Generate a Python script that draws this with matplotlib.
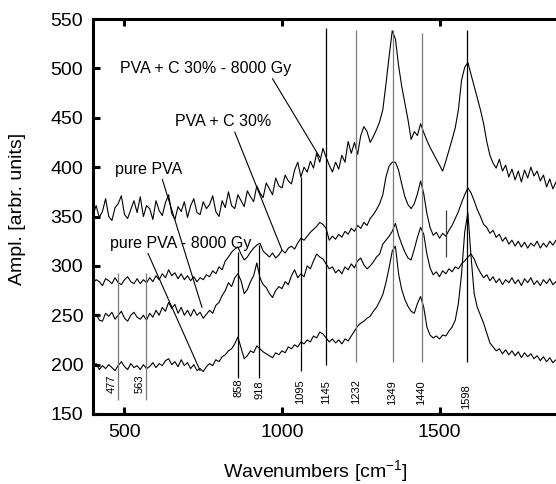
import matplotlib

matplotlib.use("Agg")
import matplotlib.pyplot as plt
import numpy as np

plt.rcParams["font.family"] = ["Liberation Sans", "DejaVu Sans"]
plt.rcParams["mathtext.fontset"] = "custom"
plt.rcParams["mathtext.rm"] = "Liberation Sans"

# wavenumber grid (cm^-1), one value every 10 cm^-1
wn = np.arange(400, 1890, 10)

# PVA + C 30% - 8000 Gy (top trace)
pva_c_irr = [
    352, 361, 349, 355, 368, 350, 346, 359, 363, 371, 352, 348, 357, 366, 354,
    370, 350, 361, 358, 347, 366, 356, 351, 364, 372, 353, 347, 360, 355, 365,
    349, 361, 368, 354, 352, 365, 358, 362, 371, 355, 350, 366, 359, 375, 361,
    358, 372, 366, 360, 376, 370, 365, 381, 374, 369, 384, 378, 372, 389, 381,
    379, 392, 386, 383, 397, 405, 390, 400, 395, 406, 399, 414, 405, 419, 410,
    402, 395, 405, 398, 412, 405, 426, 414, 425, 413, 432, 441, 436, 425, 431,
    438, 446, 458, 484, 512, 538, 530, 503, 482, 465, 448, 428, 436, 432, 444,
    435, 427, 420, 414, 408, 402, 396, 406, 417, 428, 440, 458, 488, 501, 506,
    494, 482, 470, 458, 444, 426, 412, 404, 399, 408, 396, 402, 390, 398, 387,
    396, 385, 397, 389, 400, 391, 396, 386, 392, 380, 388, 378, 385, 376,
]

# PVA + C 30%
pva_c = [
    283, 286, 284, 280, 287, 285, 282, 288, 283, 281, 286, 289, 284, 282, 287,
    282, 286, 283, 288, 284, 290, 286, 292, 288, 296, 290, 293, 287, 292, 286,
    290, 285, 289, 284, 288, 286, 291, 289, 295, 292, 299, 296, 305, 309, 314,
    317, 319, 312, 306, 309, 314, 318, 321, 323, 315, 312, 309, 313, 308, 311,
    316, 313, 318, 320, 317, 323, 328, 326, 330, 334, 337, 340, 344, 342, 338,
    326, 330, 327, 332, 329, 335, 332, 338, 335, 341, 338, 344, 341, 348, 352,
    357, 363, 372, 390, 401, 405, 405, 397, 383, 370, 362, 358, 363, 373, 386,
    373, 353, 339, 331, 334, 328, 333, 330, 336, 341, 348, 355, 364, 372, 379,
    374, 366, 357, 350, 342, 339, 333, 336, 329, 332, 325, 329, 322, 326, 320,
    325, 319, 324, 318, 323, 320, 325, 318, 323, 319, 325, 321, 326, 322,
]

# pure PVA
pva = [
    247, 251, 245, 244, 252, 249, 253, 246, 250, 254, 247, 244, 250, 253, 248,
    246, 250, 245, 252, 248, 255, 250, 258, 254, 263, 257, 261, 252, 258, 250,
    255, 249, 256, 250, 253, 247, 251, 255, 252, 260, 263, 270, 275, 283, 279,
    288, 292, 285, 272, 276, 284, 290, 303, 288, 281, 278, 272, 268, 275, 279,
    277, 284, 281, 290, 296, 288, 292, 289, 300, 297, 305, 312, 309, 307, 302,
    297, 299, 293, 296, 292, 299, 296, 302, 298, 305, 308, 301, 297, 300, 304,
    309, 312, 322, 326, 330, 335, 343, 331, 322, 314, 308, 306, 317, 329, 339,
    332, 312, 298, 291, 294, 289, 295, 292, 297, 294, 299, 297, 302, 305, 309,
    312, 307, 299, 293, 288, 291, 285, 289, 283, 287, 281, 286, 283, 288, 282,
    286, 280, 287, 283, 288, 281, 285, 280, 286, 282, 287, 281, 284, 282,
]

# pure PVA - 8000 Gy (bottom trace)
pva_irr = [
    198, 201, 195, 199, 196, 200, 197, 194, 199, 203, 198, 195, 201, 197, 199,
    195, 200, 196, 198, 202, 197, 201, 199, 204, 206, 200, 203, 198, 205, 199,
    202, 196, 200, 194, 196, 193, 198, 201, 199, 205, 203, 208, 210, 214, 216,
    221, 228, 217, 206, 209, 214, 212, 219, 216, 213, 211, 209, 207, 212, 210,
    214, 212, 218, 216, 220, 218, 223, 221, 225, 223, 229, 227, 233, 231, 227,
    223, 226, 222, 225, 221, 226, 224, 229, 234, 239, 242, 244, 247, 249, 254,
    258, 264, 271, 283, 298, 315, 320, 292, 276, 266, 259, 254, 252, 262, 269,
    258, 238, 230, 227, 229, 226, 230, 229, 234, 238, 245, 262, 292, 334, 354,
    310, 272, 258, 250, 242, 232, 222, 218, 214, 216, 211, 215, 210, 214, 209,
    213, 207, 212, 208, 211, 206, 209, 204, 208, 203, 207, 202, 205, 203,
]

# band markers
band_labels = ["477", "563", "858", "918", "1095", "1145", "1232", "1349", "1440", "1598"]
band_x = [480, 568, 861, 927, 1059, 1139, 1234, 1351, 1443, 1586]
band_top = [293, 293, 314, 321, 390, 541, 539, 539, 536, 539]
band_bot = [164, 164, 186, 186, 194, 200, 203, 203, 203, 203]
band_gray = [True, True, False, False, False, False, True, True, True, False]
label_x = [459, 549, 861, 927, 1059, 1139, 1234, 1351, 1443, 1586]
label_y = [181, 181, 177, 175, 173, 172, 173, 172, 172, 168]

fig = plt.figure(figsize=(5.56, 4.84), dpi=100)
ax = fig.add_axes([93 / 556, 1 - 414 / 484, 472.5 / 556, 395 / 484])

for y in [pva_c_irr, pva_c, pva, pva_irr]:
    ax.plot(wn, y, color="black", lw=0.8)

for x, lab, yt, yb, g, lx, ly in zip(band_x, band_labels, band_top, band_bot,
                                     band_gray, label_x, label_y):
    ax.vlines(x, yb, yt, color="#7a7a7a" if g else "black", lw=0.9)
    ax.text(lx, ly, lab, rotation=90, fontsize=8, ha="center", va="center")
ax.vlines(1521, 309, 357, color="#404040", lw=0.9)

# curve labels with leader lines
curve_names = ["PVA + C 30% - 8000 Gy", "PVA + C 30%", "pure PVA", "pure PVA - 8000 Gy"]
name_pos = [(486, 500), (660, 446), (470, 398), (454, 323)]
leader_end = [(1120, 410), (1000, 316), (746, 258), (740, 194)]
leader_rel = [0.88, 0.61, 0.69, 0.26]
for name, pos, end, rel in zip(curve_names, name_pos, leader_end, leader_rel):
    ax.annotate(name, xy=end, xytext=pos, fontsize=11.5, ha="left", va="center",
                arrowprops=dict(arrowstyle="-", lw=0.8, color="black",
                                relpos=(rel, 0), shrinkA=0, shrinkB=0))

ax.set_xlim(400, 1900)
ax.set_ylim(150, 550)
ax.set_xticks([500, 1000, 1500])
ax.set_yticks(np.arange(150, 551, 50))
for s in ax.spines.values():
    s.set_linewidth(2.2)
ax.tick_params(direction="in", length=5, width=2.2, labelsize=14, top=True, right=True)
ax.tick_params(axis="y", pad=7)
ax.tick_params(axis="x", pad=7)

ax.set_xlabel("Wavenumbers [cm$^{-1}$]", fontsize=14)
ax.xaxis.set_label_coords(0.47, -0.145)
ax.xaxis.label.set_va("center")
ax.set_ylabel("Ampl. [arbr. units]", fontsize=14)
ax.yaxis.set_label_coords(-0.159, 0.519)
ax.yaxis.label.set_va("center")

fig.savefig("out.png", dpi=100)
plt.close(fig)
